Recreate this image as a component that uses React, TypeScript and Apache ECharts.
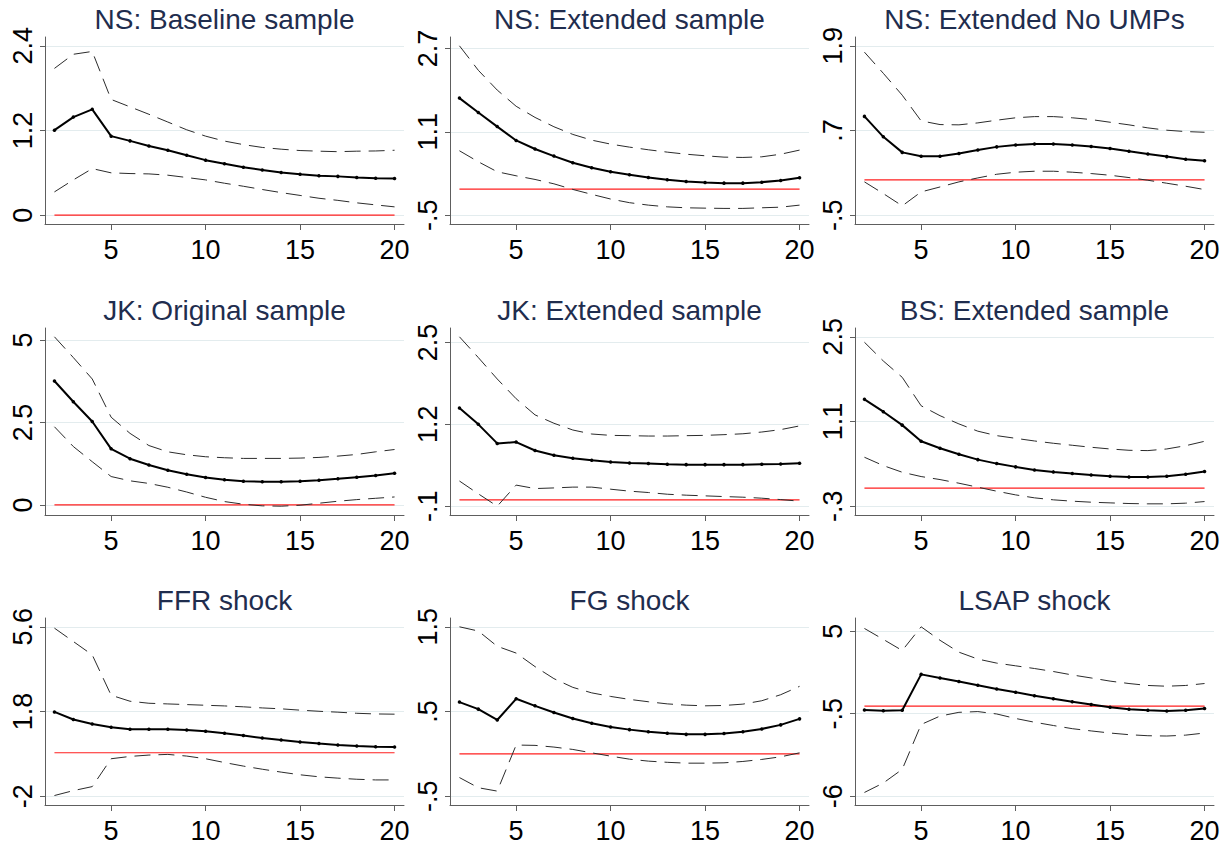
import React, { useEffect, useRef } from "react";
import * as echarts from "echarts";

const horizons = [2, 3, 4, 5, 6, 7, 8, 9, 10, 11, 12, 13, 14, 15, 16, 17, 18, 19, 20];
const xTicks = [5, 10, 15, 20];

const titles = [
  "NS: Baseline sample",
  "NS: Extended sample",
  "NS: Extended No UMPs",
  "JK: Original sample",
  "JK: Extended sample",
  "BS: Extended sample",
  "FFR shock",
  "FG shock",
  "LSAP shock",
];

// y tick positions and their printed labels
const yTickValues = [
  [0, 1.2, 2.4],
  [-0.5, 1.1, 2.7],
  [-0.5, 0.7, 1.9],
  [0, 2.5, 5],
  [-0.1, 1.2, 2.5],
  [-0.3, 1.1, 2.5],
  [-1.95, 1.85, 5.65],
  [-0.5, 0.5, 1.5],
  [-6, -0.5, 5],
];
const yTickLabels = [
  ["0", "1.2", "2.4"],
  ["-.5", "1.1", "2.7"],
  ["-.5", ".7", "1.9"],
  ["0", "2.5", "5"],
  ["-.1", "1.2", "2.5"],
  ["-.3", "1.1", "2.5"],
  ["-2", "1.8", "5.6"],
  ["-.5", ".5", "1.5"],
  ["-6", "-.5", "5"],
];

// NS: Baseline sample
const nsBaseIrf = [1.205, 1.39, 1.5, 1.12, 1.053, 0.98, 0.92, 0.85, 0.78, 0.73, 0.68, 0.64, 0.605, 0.58, 0.56, 0.55, 0.534, 0.524, 0.52];
const nsBaseUp = [2.08, 2.28, 2.32, 1.64, 1.535, 1.43, 1.32, 1.21, 1.12, 1.05, 1.0, 0.96, 0.935, 0.916, 0.907, 0.9, 0.907, 0.91, 0.92];
const nsBaseLo = [0.33, 0.5, 0.66, 0.6, 0.59, 0.585, 0.567, 0.534, 0.5, 0.453, 0.41, 0.364, 0.32, 0.28, 0.24, 0.21, 0.175, 0.146, 0.118];

// NS: Extended sample
const nsExtIrf = [1.747, 1.47, 1.2, 0.934, 0.77, 0.634, 0.506, 0.41, 0.333, 0.275, 0.224, 0.18, 0.147, 0.128, 0.115, 0.115, 0.134, 0.166, 0.218];
const nsExtUp = [2.75, 2.28, 1.9, 1.59, 1.376, 1.197, 1.05, 0.94, 0.864, 0.806, 0.755, 0.71, 0.67, 0.64, 0.614, 0.608, 0.62, 0.67, 0.749];
const nsExtLo = [0.736, 0.525, 0.333, 0.256, 0.186, 0.102, -0.006, -0.1, -0.19, -0.26, -0.307, -0.34, -0.358, -0.365, -0.37, -0.37, -0.358, -0.346, -0.307];

// NS: Extended No UMPs
const nsNoUmpIrf = [0.9, 0.61, 0.39, 0.335, 0.335, 0.373, 0.425, 0.468, 0.496, 0.51, 0.51, 0.496, 0.472, 0.444, 0.406, 0.368, 0.33, 0.293, 0.27];
const nsNoUmpUp = [1.81, 1.51, 1.2, 0.836, 0.784, 0.78, 0.808, 0.846, 0.88, 0.897, 0.897, 0.88, 0.855, 0.817, 0.78, 0.737, 0.704, 0.685, 0.675];
const nsNoUmpLo = [-0.028, -0.194, -0.368, -0.17, -0.1, -0.028, 0.028, 0.08, 0.109, 0.123, 0.123, 0.109, 0.09, 0.066, 0.033, -0.005, -0.047, -0.09, -0.137];

// JK: Original sample
const jkOrigIrf = [3.76, 3.13, 2.53, 1.7, 1.4, 1.21, 1.05, 0.93, 0.83, 0.76, 0.72, 0.7, 0.7, 0.72, 0.75, 0.79, 0.84, 0.89, 0.96];
const jkOrigUp = [5.1, 4.47, 3.82, 2.66, 2.17, 1.8, 1.61, 1.52, 1.46, 1.43, 1.41, 1.41, 1.41, 1.42, 1.44, 1.48, 1.53, 1.61, 1.68];
const jkOrigLo = [2.37, 1.77, 1.31, 0.86, 0.73, 0.65, 0.535, 0.39, 0.23, 0.1, 0.02, -0.03, -0.04, -0.01, 0.05, 0.11, 0.16, 0.2, 0.24];

// JK: Extended sample
const jkExtIrf = [1.458, 1.2, 0.897, 0.918, 0.785, 0.71, 0.662, 0.63, 0.603, 0.587, 0.577, 0.566, 0.56, 0.56, 0.56, 0.56, 0.566, 0.571, 0.582];
const jkExtUp = [2.59, 2.26, 1.92, 1.607, 1.35, 1.217, 1.11, 1.046, 1.025, 1.02, 1.014, 1.014, 1.02, 1.025, 1.036, 1.05, 1.078, 1.116, 1.175];
const jkExtLo = [0.3, 0.096, -0.1, 0.235, 0.18, 0.19, 0.203, 0.203, 0.17, 0.139, 0.117, 0.09, 0.075, 0.064, 0.053, 0.043, 0.027, 0.005, -0.02];

// BS: Extended sample
const bsExtIrf = [1.466, 1.262, 1.04, 0.773, 0.657, 0.558, 0.47, 0.404, 0.35, 0.3, 0.267, 0.24, 0.217, 0.195, 0.184, 0.184, 0.195, 0.228, 0.272];
const bsExtUp = [2.41, 2.1, 1.83, 1.36, 1.196, 1.06, 0.94, 0.866, 0.822, 0.778, 0.74, 0.707, 0.674, 0.646, 0.624, 0.619, 0.646, 0.7, 0.773];
const bsExtLo = [0.509, 0.371, 0.261, 0.19, 0.14, 0.08, 0.014, -0.052, -0.113, -0.162, -0.195, -0.217, -0.234, -0.245, -0.256, -0.261, -0.261, -0.25, -0.223];

// FFR shock
const ffrIrf = [1.83, 1.49, 1.29, 1.14, 1.05, 1.05, 1.05, 1.02, 0.96, 0.87, 0.77, 0.66, 0.57, 0.48, 0.41, 0.35, 0.3, 0.27, 0.255];
const ffrUp = [5.59, 4.99, 4.39, 2.58, 2.31, 2.22, 2.19, 2.16, 2.13, 2.1, 2.06, 2.01, 1.97, 1.91, 1.86, 1.82, 1.77, 1.74, 1.73];
const ffrLo = [-1.92, -1.7, -1.52, -0.27, -0.165, -0.105, -0.075, -0.15, -0.27, -0.44, -0.6, -0.74, -0.87, -0.99, -1.08, -1.14, -1.19, -1.22, -1.22];

// FG shock
const fgIrf = [0.611, 0.528, 0.4, 0.65, 0.567, 0.488, 0.417, 0.361, 0.318, 0.286, 0.262, 0.243, 0.23, 0.23, 0.239, 0.262, 0.294, 0.342, 0.413];
const fgUp = [1.5, 1.45, 1.27, 1.19, 1.03, 0.888, 0.785, 0.72, 0.678, 0.643, 0.615, 0.59, 0.575, 0.567, 0.571, 0.587, 0.627, 0.698, 0.797];
const fgLo = [-0.28, -0.4, -0.44, 0.104, 0.1, 0.08, 0.052, 0.012, -0.027, -0.063, -0.086, -0.1, -0.11, -0.11, -0.106, -0.09, -0.066, -0.035, 0.012];

// LSAP shock
const lsapIrf = [-0.25, -0.3, -0.27, 2.12, 1.88, 1.65, 1.4, 1.15, 0.93, 0.7, 0.5, 0.29, 0.11, -0.07, -0.21, -0.27, -0.32, -0.27, -0.16];
const lsapUp = [5.18, 4.45, 3.71, 5.29, 4.39, 3.6, 3.14, 2.87, 2.69, 2.51, 2.31, 2.08, 1.88, 1.67, 1.51, 1.38, 1.33, 1.38, 1.51];
const lsapLo = [-5.75, -5.12, -4.21, -1.22, -0.66, -0.41, -0.36, -0.52, -0.82, -1.07, -1.29, -1.5, -1.65, -1.79, -1.9, -1.97, -1.99, -1.93, -1.79];

const irfs = [nsBaseIrf, nsExtIrf, nsNoUmpIrf, jkOrigIrf, jkExtIrf, bsExtIrf, ffrIrf, fgIrf, lsapIrf];
const uppers = [nsBaseUp, nsExtUp, nsNoUmpUp, jkOrigUp, jkExtUp, bsExtUp, ffrUp, fgUp, lsapUp];
const lowers = [nsBaseLo, nsExtLo, nsNoUmpLo, jkOrigLo, jkExtLo, bsExtLo, ffrLo, fgLo, lsapLo];

const FONT = "'Liberation Sans', Arial, Helvetica, sans-serif";
const LEFTS = [45, 450, 855];
const TOPS = [37, 328, 618];
const W = 359;
const H = 187;
const AXIS_COLOR = "#5e5e5e";

function buildOption() {
  const grid: any[] = [];
  const xAxis: any[] = [];
  const yAxis: any[] = [];
  const series: any[] = [];
  const title: any[] = [];

  titles.forEach((t, i) => {
    const col = i % 3;
    const row = Math.floor(i / 3);
    const left = LEFTS[col];
    const top = TOPS[row];
    grid.push({ left, top, width: W, height: H, containLabel: false, outerBoundsMode: "none" });
    title.push({
      text: t,
      left: left + W / 2,
      top: top - 32,
      textAlign: "center",
      padding: 0,
      textStyle: { fontSize: 28, fontWeight: "normal", color: "#1f2d4e", fontFamily: FONT },
    });

    const ticks = yTickValues[i];
    const labels = yTickLabels[i];
    const all = [...uppers[i], ...lowers[i], ...irfs[i], ...ticks, 0];
    const lo = Math.min(...all);
    const hi = Math.max(...all);
    const pad = (hi - lo) * 0.052;

    xAxis.push({
      type: "value",
      gridIndex: i,
      min: 1.5,
      max: 20.5,
      axisLine: { show: true, onZero: false, lineStyle: { color: AXIS_COLOR, width: 1 } },
      axisTick: { show: true, length: 6, customValues: xTicks, lineStyle: { color: AXIS_COLOR } },
      axisLabel: { customValues: xTicks, fontSize: 27, color: "#000", margin: 12, fontFamily: FONT },
      splitLine: { show: false },
    });
    yAxis.push({
      type: "value",
      gridIndex: i,
      min: lo - pad,
      max: hi + pad,
      axisLine: { show: true, onZero: false, lineStyle: { color: AXIS_COLOR, width: 1 } },
      axisTick: { show: true, length: 5, customValues: ticks, lineStyle: { color: AXIS_COLOR } },
      axisLabel: {
        customValues: ticks,
        rotate: 90,
        fontSize: 27,
        color: "#000",
        margin: 9,
        fontFamily: FONT,
        formatter: (v: number) => {
          let best = 0;
          ticks.forEach((tv, k) => {
            if (Math.abs(tv - v) < Math.abs(ticks[best] - v)) best = k;
          });
          return labels[best];
        },
      },
      splitLine: { show: true, lineStyle: { color: "#e3ecee", width: 1 } },
    });

    series.push({
      type: "line",
      xAxisIndex: i,
      yAxisIndex: i,
      data: [
        [horizons[0], 0],
        [horizons[horizons.length - 1], 0],
      ],
      symbol: "none",
      silent: true,
      lineStyle: { color: "#ff1f1f", width: 1.2 },
    });
    [uppers[i], lowers[i]].forEach((band) => {
      series.push({
        type: "line",
        xAxisIndex: i,
        yAxisIndex: i,
        data: horizons.map((h, j) => [h, band[j]]),
        symbol: "none",
        silent: true,
        lineStyle: { color: "#2b2b2b", width: 1, type: [16, 8] },
      });
    });
    series.push({
      type: "line",
      xAxisIndex: i,
      yAxisIndex: i,
      data: horizons.map((h, j) => [h, irfs[i][j]]),
      symbol: "circle",
      symbolSize: 3.5,
      silent: true,
      itemStyle: { color: "#000" },
      lineStyle: { color: "#000", width: 2 },
    });
  });

  return {
    animation: false,
    backgroundColor: "#ffffff",
    title,
    grid,
    xAxis,
    yAxis,
    series,
  };
}

export default function App() {
  const ref = useRef<HTMLDivElement>(null);
  useEffect(() => {
    if (!ref.current) return;
    const chart = echarts.init(ref.current, undefined, { renderer: "svg" });
    chart.setOption(buildOption() as any);
    return () => chart.dispose();
  }, []);
  return (
    <div
      ref={ref}
      style={{ position: "fixed", left: 0, top: 0, width: 1229, height: 845, background: "#fff" }}
    />
  );
}
